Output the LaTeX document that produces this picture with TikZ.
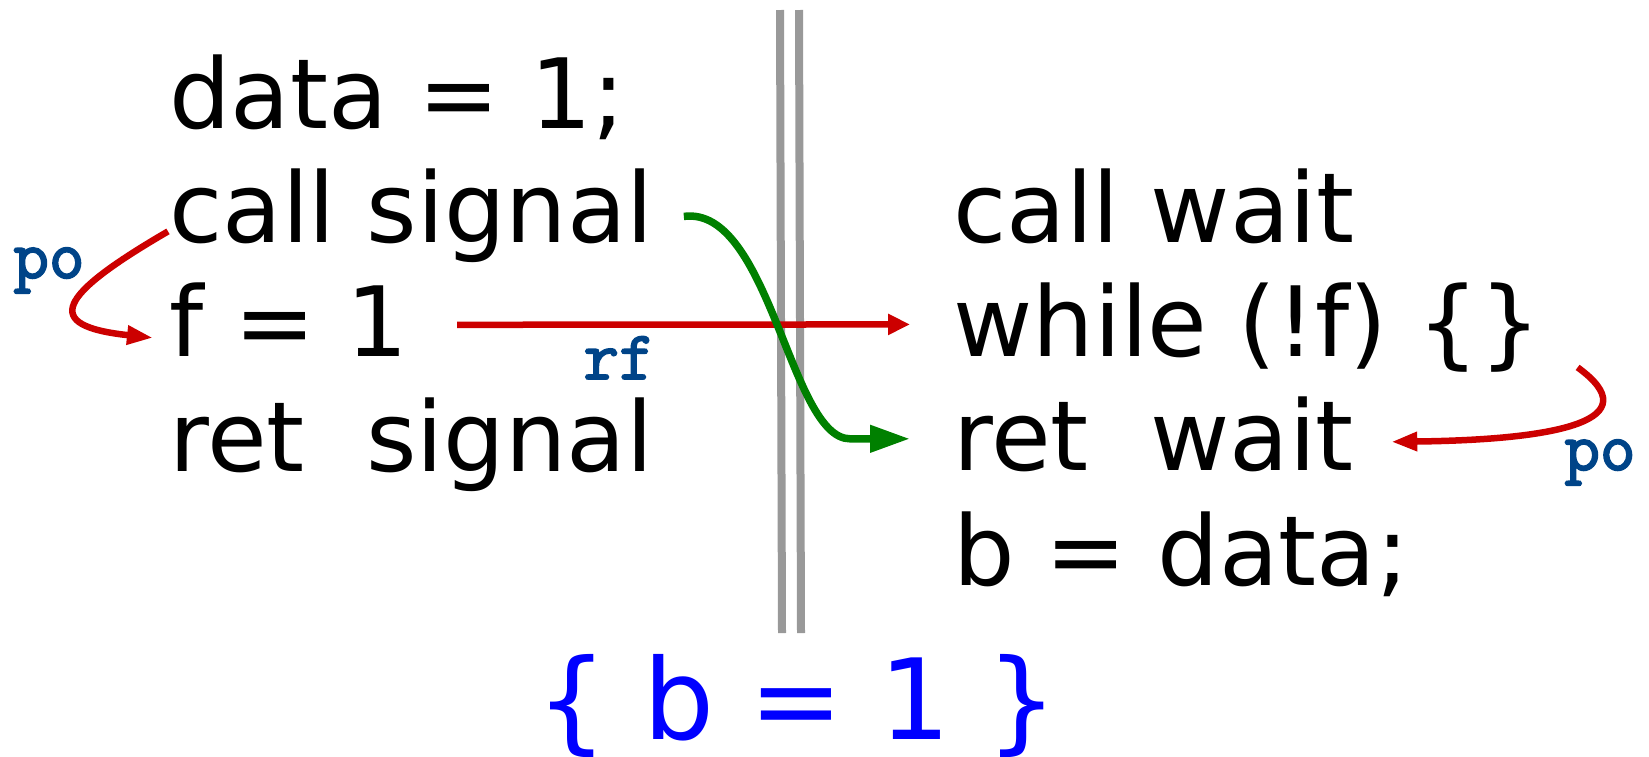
\documentclass[tikz,border=0pt]{standalone}
\usepackage{fontspec}
\setmainfont{DejaVu Sans}
\newfontfamily\lblfont[FakeBold=2.5]{Latin Modern Mono}
\usetikzlibrary{arrows.meta,positioning}

\definecolor{poRed}{HTML}{CC0000}
\definecolor{syncGreen}{HTML}{008000}
\definecolor{lblBlue}{HTML}{004488}
\definecolor{threadGray}{HTML}{999999}
\definecolor{postBlue}{HTML}{0000FF}

\begin{document}
\begin{tikzpicture}[
  x=1pt, y=-1pt,
  node distance=22.8pt,
  code/.style={
    inner sep=0pt,
    font=\fontsize{97}{114}\selectfont,
    text height=77.6pt,
    text depth=13.6pt
  },
  lbl/.style={
    inner sep=0pt,
    anchor=base,
    text=lblBlue,
    font=\fontsize{69}{69}\selectfont\lblfont
  },
  thread/.style={draw=threadGray, line width=8pt},
  poedge/.style={draw=poRed, line width=6.5pt, -{Triangle[length=26pt,width=18pt]}},
  rfedge/.style={draw=poRed, line width=6.5pt, -{Triangle[length=22pt,width=20pt]}},
  syncedge/.style={draw=syncGreen, line width=7.5pt, -{Triangle[length=40pt,width=26pt]}}
]
\useasboundingbox (0,0) rectangle (1649,756);

% threads
\draw[thread] (780,10) -- (782,633);
\draw[thread] (799,10) -- (801,633);

% left thread
\node[code] (data) at (169,128) [anchor=base west] {data = 1;};
\node[code, below=of data.south west, anchor=north west] (callsig) {call signal};
\node[code, below=of callsig.south west, anchor=north west] (f) {f = 1};
\node[code, below=of f.south west, anchor=north west] (retsig) {ret~~signal};

% right thread
\node[code] (callwait) at (953,242) [anchor=base west] {call wait};
\node[code, below=of callwait.south west, anchor=north west] (while) {while (!f) \{\}};
\node[code, below=of while.south west, anchor=north west] (retwait) {ret~~wait};
\node[code, below=of retwait.south west, anchor=north west] (read) {b = data;};

% outcome
\node[inner sep=0pt, text=postBlue, font=\fontsize{112}{112}\selectfont] (post) at (797,739) [anchor=base] {\{ b = 1 \}};

% edges
\draw[poedge] ([xshift=-1pt,yshift=-21pt]callsig.west) .. controls +(-110,64) and +(-113,-12) .. ([xshift=-16pt,yshift=-13pt]f.west);
\draw[rfedge] ([xshift=49pt]f.east) -- ([xshift=-43pt]while.west);
\draw[syncedge] ([xshift=30pt,yshift=-6pt]callsig.east) .. controls +(86,-11) and +(-60,0) .. ([xshift=-103pt]retwait.west) -- ([xshift=-43pt]retwait.west);
\draw[poedge] ([xshift=36pt,yshift=-43pt]while.east) .. controls +(73,53) and +(167,-2) .. ([xshift=37pt,yshift=-3pt]retwait.east);

% labels
\node[lbl] (polbl) at (49,278) {po};
\node[lbl] (rflbl) at (619,379) {rf};
\node[lbl] (polbr) at (1600,470) {po};
\end{tikzpicture}
\end{document}
